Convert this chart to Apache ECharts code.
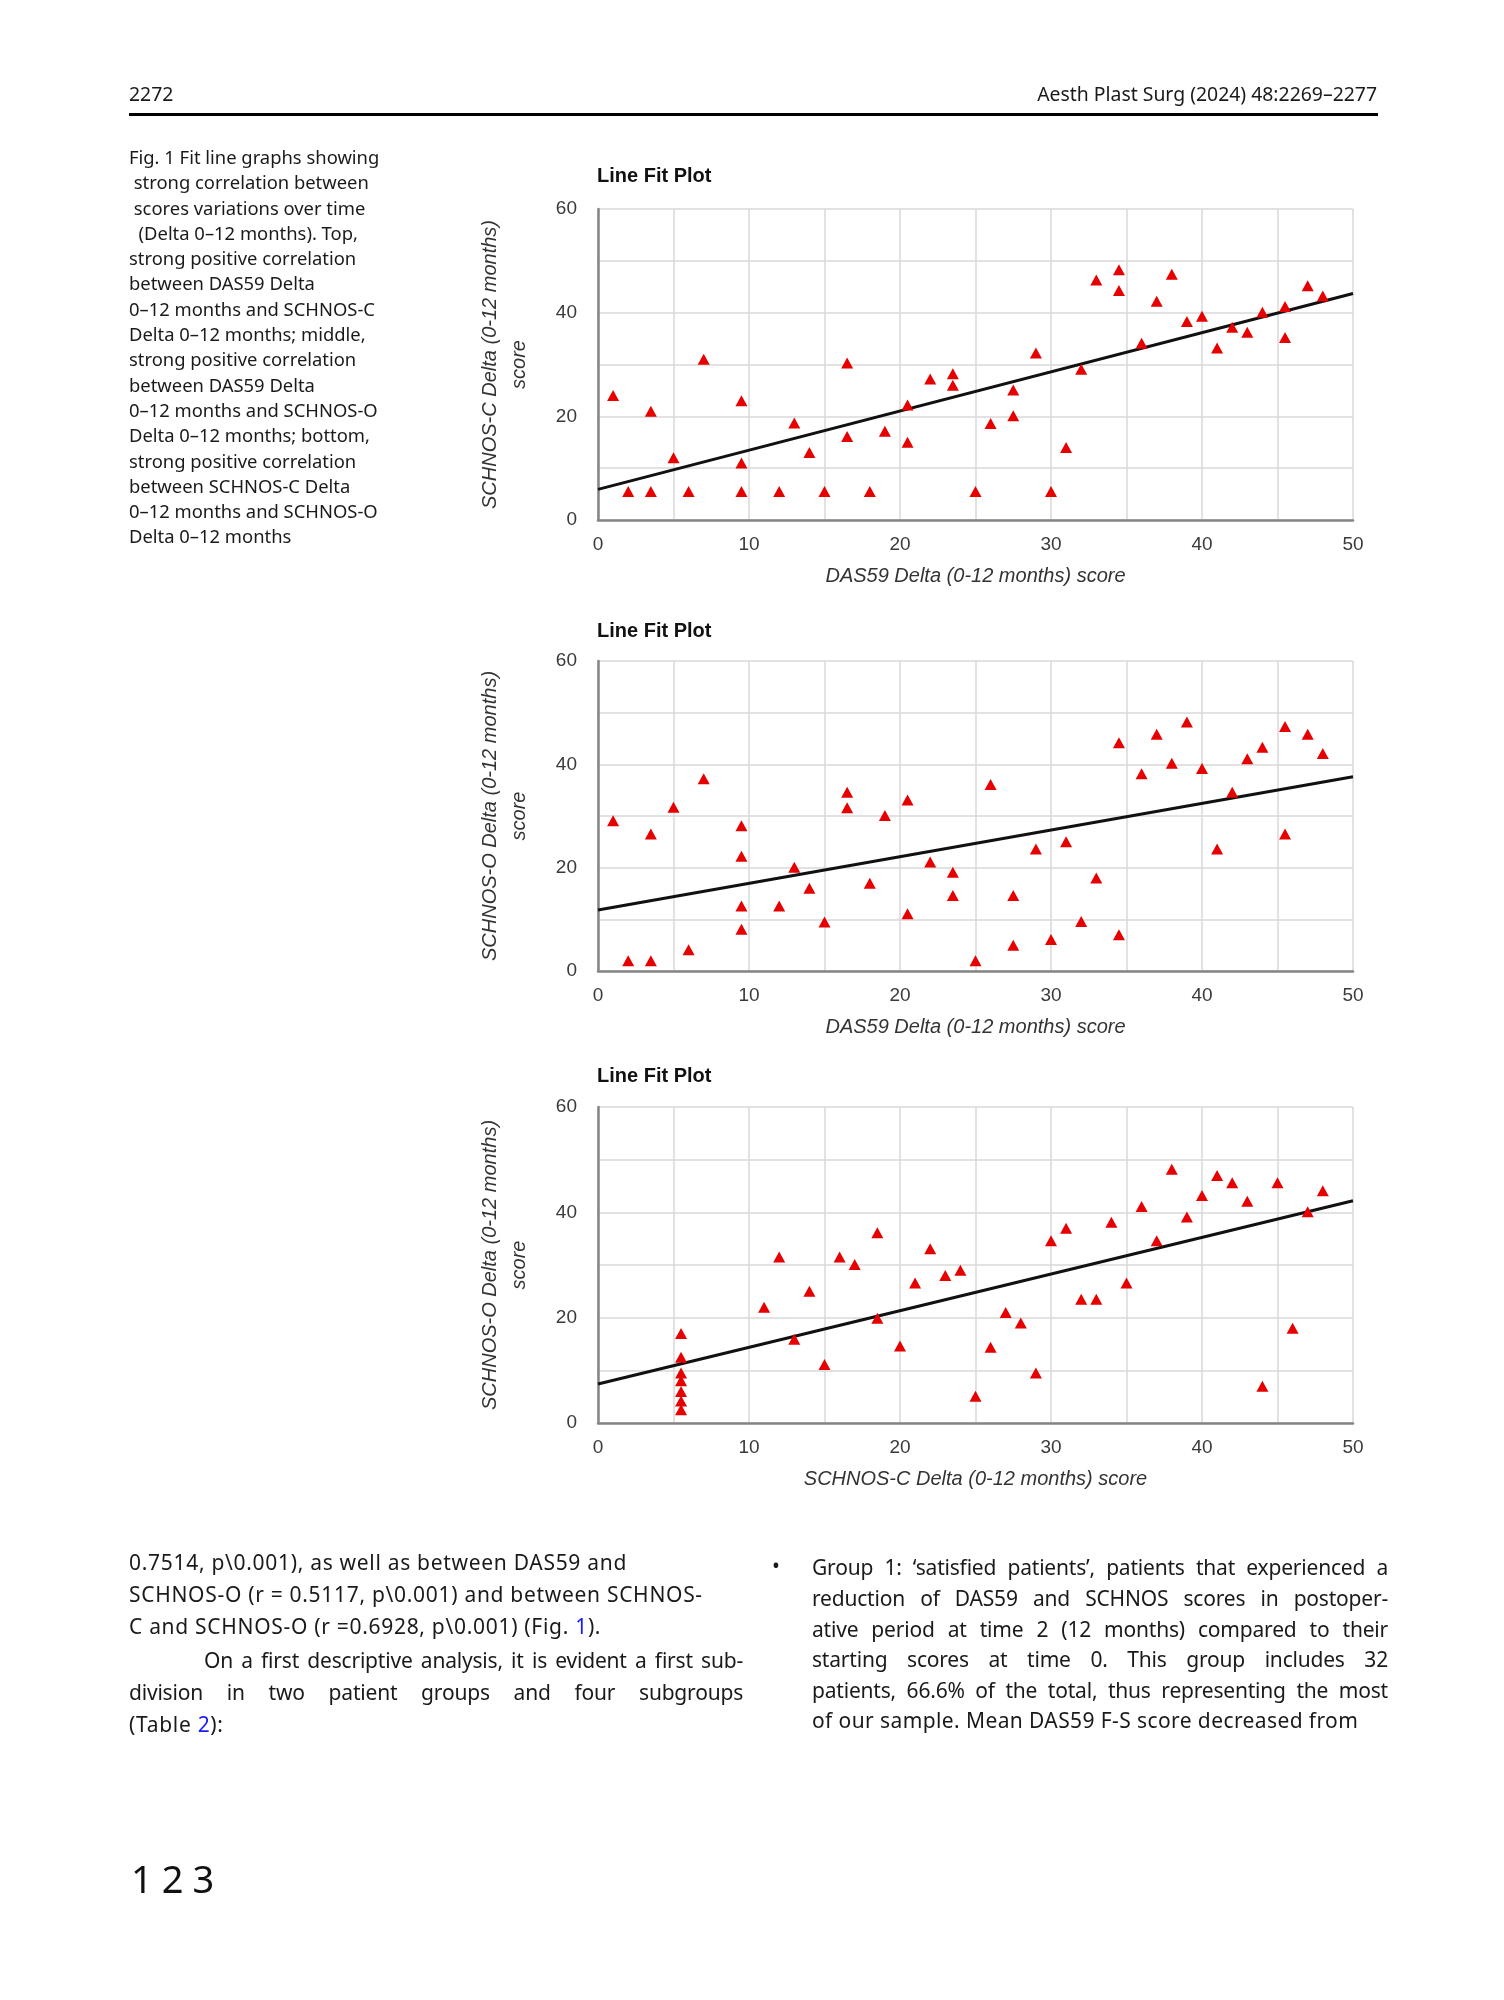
<!DOCTYPE html>
<html>
<head>
<meta charset="utf-8">
<script src="https://cdn.jsdelivr.net/npm/echarts@6/dist/echarts.min.js"></script>
<style>
  html, body { margin:0; padding:0; background:#fff; }
  body { width:1504px; height:2000px; position:relative; overflow:hidden; font-family:"Noto Sans", sans-serif; color:#1a1a1a; }
  #chart { position:absolute; left:0; top:0; width:1504px; height:2000px; }
  .t { position:absolute; white-space:nowrap; }
  .hdr { font-size:19.4px; top:80px; }
  .rule { position:absolute; left:129px; width:1249px; top:113px; height:3px; background:#000; }
  .cap { position:absolute; left:129px; font-size:18.4px; line-height:25.3px; }
  .body { font-size:21px; letter-spacing:0.7px; }
  .j { text-align:justify; text-align-last:justify; letter-spacing:-0.2px; }
  .blue { color:#1a1aff; }
</style>
</head>
<body>
<div id="chart"></div>

<div class="t hdr" style="left:129px;">2272</div>
<div class="t hdr" style="right:127px;">Aesth Plast Surg (2024) 48:2269–2277</div>
<div class="rule"></div>

<div class="cap" style="top:144px;">
  <div>Fig. 1 Fit line graphs showing</div>
  <div>&nbsp;strong correlation between</div>
  <div>&nbsp;scores variations over time</div>
  <div>&nbsp;&nbsp;(Delta 0–12 months). Top,</div>
  <div>strong positive correlation</div>
  <div>between DAS59 Delta</div>
  <div>0–12 months and SCHNOS-C</div>
  <div>Delta 0–12 months; middle,</div>
  <div>strong positive correlation</div>
  <div>between DAS59 Delta</div>
  <div>0–12 months and SCHNOS-O</div>
  <div>Delta 0–12 months; bottom,</div>
  <div>strong positive correlation</div>
  <div>between SCHNOS-C Delta</div>
  <div>0–12 months and SCHNOS-O</div>
  <div>Delta 0–12 months</div>
</div>

<div class="t body" style="left:129px; top:1548px;">0.7514, p\0.001), as well as between DAS59 and</div>
<div class="t body" style="left:129px; top:1580px;">SCHNOS-O (r = 0.5117, p\0.001) and between SCHNOS-</div>
<div class="t body" style="left:129px; top:1612px;">C and SCHNOS-O (r =0.6928, p\0.001) (Fig. <span class="blue">1</span>).</div>
<div class="t body j" style="left:204px; width:539px; top:1646px;">On a first descriptive analysis, it is evident a first sub-</div>
<div class="t body j" style="left:129px; width:614px; top:1678px;">division in two patient groups and four subgroups</div>
<div class="t body" style="left:129px; top:1710px;">(Table <span class="blue">2</span>):</div>

<div class="t body" style="left:772px; top:1551px;">•</div>
<div class="t body j" style="left:812px; width:576px; top:1553px;">Group 1: ‘satisfied patients’, patients that experienced a</div>
<div class="t body j" style="left:812px; width:576px; top:1584px;">reduction of DAS59 and SCHNOS scores in postoper-</div>
<div class="t body j" style="left:812px; width:576px; top:1615px;">ative period at time 2 (12 months) compared to their</div>
<div class="t body j" style="left:812px; width:576px; top:1645px;">starting scores at time 0. This group includes 32</div>
<div class="t body j" style="left:812px; width:576px; top:1676px;">patients, 66.6% of the total, thus representing the most</div>
<div class="t body" style="left:812px; top:1706px; letter-spacing:0.4px;">of our sample. Mean DAS59 F-S score decreased from</div>

<div class="t" style="left:131px; top:1852px; font-size:38px; letter-spacing:9px; color:#111;">123</div>

<script>
// ---------- data ----------
const xRange = [0, 50];
const yRange = [0, 60];
const titles = ['Line Fit Plot', 'Line Fit Plot', 'Line Fit Plot'];
const xNames = ['DAS59 Delta (0-12 months) score', 'DAS59 Delta (0-12 months) score', 'SCHNOS-C Delta (0-12 months) score'];
const yNames = ['SCHNOS-C Delta (0-12 months)\nscore', 'SCHNOS-O Delta (0-12 months)\nscore', 'SCHNOS-O Delta (0-12 months)\nscore'];

// Plot 1: DAS59 Delta vs SCHNOS-C Delta
const plot1X = [1, 2, 3.5, 3.5, 5, 6, 7, 9.5, 9.5, 9.5, 12, 13, 14, 15, 16.5, 16.5, 18, 19, 20.5, 20.5, 22, 23.5, 23.5, 25,
                26, 27.5, 27.5, 29, 30, 31, 32, 33, 34.5, 34.5, 36, 37, 38, 39, 40, 41, 42, 43, 44, 45.5, 45.5, 47, 48];
const plot1Y = [24, 5.5, 21, 5.5, 12, 5.5, 31, 23, 11, 5.5, 5.5, 18.7, 13, 5.5, 30.3, 16.1, 5.5, 17.1, 22.2, 15, 27.2, 28.2, 26, 5.5,
                18.6, 25.1, 20.1, 32.2, 5.5, 14, 29.1, 46.3, 48.3, 44.3, 34.1, 42.2, 47.4, 38.3, 39.3, 33.2, 37.2, 36.2, 40.1, 41.2, 35.2, 45.2, 43.2];
const fit1X = [0, 50];
const fit1Y = [5.9, 43.7];

// Plot 2: DAS59 Delta vs SCHNOS-O Delta
const plot2X = [1, 2, 3.5, 3.5, 5, 6, 7, 9.5, 9.5, 9.5, 9.5, 12, 13, 14, 15, 16.5, 16.5, 18, 19, 20.5, 20.5, 22, 23.5, 23.5, 25,
                26, 27.5, 27.5, 29, 30, 31, 32, 33, 34.5, 34.5, 36, 37, 38, 39, 40, 41, 42, 43, 44, 45.5, 45.5, 47, 48];
const plot2Y = [29.1, 2, 26.5, 2, 31.7, 4.1, 37.2, 28.1, 22.2, 12.6, 8.1, 12.6, 20.1, 16, 9.5, 34.6, 31.6, 17, 30.1, 33.1, 11.1, 21.1, 19.1, 14.6, 2,
                36.1, 14.6, 5, 23.6, 6.1, 25, 9.6, 18, 44.2, 7, 38.2, 45.8, 40.2, 48.2, 39.2, 23.6, 34.6, 41.1, 43.3, 47.3, 26.5, 45.8, 42.1];
const fit2X = [0, 50];
const fit2Y = [11.8, 37.6];

// Plot 3: SCHNOS-C Delta vs SCHNOS-O Delta
const plot3X = [5.5, 5.5, 5.5, 5.5, 5.5, 5.5, 5.5, 11, 12, 13, 14, 15, 16, 17, 18.5, 18.5, 20, 21, 22, 23, 24, 25,
                26, 27, 28, 29, 30, 31, 32, 33, 34, 35, 36, 37, 38, 39, 40, 41, 42, 43, 44, 45, 46, 47, 48];
const plot3Y = [17, 12.5, 9.5, 8, 6, 4.2, 2.5, 22, 31.5, 15.9, 25, 11.1, 31.5, 30.1, 36.1, 19.9, 14.6, 26.6, 33.1, 28, 29, 5.1,
                14.4, 21, 19, 9.5, 34.6, 37, 23.5, 23.5, 38.1, 26.6, 41.1, 34.6, 48.2, 39.1, 43.2, 47, 45.6, 42.1, 7, 45.6, 18, 40.1, 44.1];
const fit3X = [0, 50];
const fit3Y = [7.4, 42.2];

// ---------- layout / style ----------
const gridBoxes = [
  { left: 598, top: 209, width: 755, height: 311 },
  { left: 598, top: 661, width: 755, height: 310 },
  { left: 598, top: 1107, width: 755, height: 316 }
];
const titleTops = [166, 621, 1066];
const FONT = 'Liberation Sans, Arial, sans-serif';
const gridColor = '#d9d9d9';
const axisColor = '#858585';
const markerColor = '#e60000';

const pts = (xs, ys) => xs.map((x, i) => [x, ys[i]]);
const scatterSets = [pts(plot1X, plot1Y), pts(plot2X, plot2Y), pts(plot3X, plot3Y)];
const fitSets = [pts(fit1X, fit1Y), pts(fit2X, fit2Y), pts(fit3X, fit3Y)];

const option = {
  animation: false,
  backgroundColor: 'transparent',
  title: titles.map((t, i) => ({
    text: t, left: 597, top: titleTops[i], padding: 0,
    textStyle: { fontFamily: FONT, fontSize: 20, fontWeight: 'bold', color: '#111' }
  })),
  grid: gridBoxes.map(b => Object.assign({ containLabel: false, outerBoundsMode: 'none' }, b)),
  xAxis: gridBoxes.map((b, i) => ({
    type: 'value', gridIndex: i, min: xRange[0], max: xRange[1], interval: 10,
    axisLine: { show: true, onZero: false, lineStyle: { color: axisColor, width: 2.5 } },
    axisTick: { show: false },
    minorTick: { show: false, splitNumber: 2 },
    splitLine: { show: true, lineStyle: { color: gridColor, width: 1.5 } },
    minorSplitLine: { show: true, lineStyle: { color: gridColor, width: 1.5 } },
    axisLabel: { margin: 15, fontSize: 19, color: '#3a3a3a', fontFamily: FONT },
    name: xNames[i], nameLocation: 'middle', nameGap: 46,
    nameTextStyle: { fontFamily: FONT, fontSize: 20, fontStyle: 'italic', color: '#333' }
  })),
  yAxis: gridBoxes.map((b, i) => ({
    type: 'value', gridIndex: i, min: yRange[0], max: yRange[1], interval: 20,
    axisLine: { show: true, onZero: false, lineStyle: { color: axisColor, width: 2.5 } },
    axisTick: { show: false },
    minorTick: { show: false, splitNumber: 2 },
    splitLine: { show: true, lineStyle: { color: gridColor, width: 1.5 } },
    minorSplitLine: { show: true, lineStyle: { color: gridColor, width: 1.5 } },
    axisLabel: { margin: 21, fontSize: 19, color: '#3a3a3a', fontFamily: FONT },
    name: yNames[i], nameLocation: 'middle', nameRotate: 90, nameGap: 64,
    nameTextStyle: { fontFamily: FONT, fontSize: 20, fontStyle: 'italic', color: '#333', lineHeight: 29, align: 'center' }
  })),
  series: [].concat(
    fitSets.map((d, i) => ({
      type: 'line', xAxisIndex: i, yAxisIndex: i, data: d, showSymbol: false, symbol: 'none',
      lineStyle: { color: '#111', width: 3 }, z: 2, silent: true
    })),
    scatterSets.map((d, i) => ({
      type: 'scatter', xAxisIndex: i, yAxisIndex: i, data: d, symbol: 'triangle', symbolSize: [12, 11],
      itemStyle: { color: markerColor, opacity: 1 }, z: 3
    }))
  )
};

const chart = echarts.init(document.getElementById('chart'), null, { renderer: 'canvas' });
chart.setOption(option);
</script>
</body>
</html>
